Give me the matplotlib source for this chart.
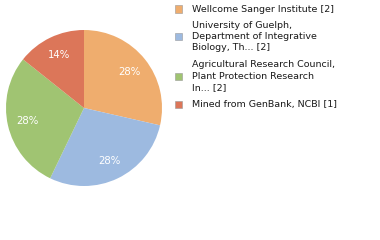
import matplotlib.pyplot as plt
from matplotlib.patches import Rectangle
import numpy as np

labels = ["Wellcome Sanger Institute [2]",
          "University of Guelph,\nDepartment of Integrative\nBiology, Th... [2]",
          "Agricultural Research Council,\nPlant Protection Research\nIn... [2]",
          "Mined from GenBank, NCBI [1]"]
counts = [2, 2, 2, 1]
pct_text = ["28%", "28%", "28%", "14%"]
colors = ["#EFAD6E", "#9DBAE0", "#A0C472", "#DC7659"]

W, H = 380, 240
fig = plt.figure(figsize=(3.8, 2.4), dpi=100)

# pie: centre (84,108), radius 78 px
cx, cy, r = 84, 108, 78
ax = fig.add_axes([(cx - r) / W, 1 - (cy + r) / H, 2 * r / W, 2 * r / H])
wedges, _ = ax.pie(counts, colors=colors, startangle=90, counterclock=False,
                   radius=1.0, wedgeprops=dict(linewidth=0))
for w, t in zip(wedges, pct_text):
    ang = np.deg2rad((w.theta1 + w.theta2) / 2)
    ax.text(0.75 * np.cos(ang), 0.75 * np.sin(ang), t, color="white",
            ha="center", va="center", fontsize=7.3)
ax.set_xlim(-1, 1)
ax.set_ylim(-1, 1)
ax.set_aspect("equal")
ax.axis("off")

# legend drawn by hand
line_h = 11.5
ys = [9, 25, 65, 104]
for y0, lab, c in zip(ys, labels, colors):
    n = lab.count("\n") + 1
    mid = y0 + (n - 1) * line_h / 2
    fig.patches.append(Rectangle((175 / W, 1 - (mid + 3.5) / H), 7 / W, 7 / H,
                                 transform=fig.transFigure, facecolor=c,
                                 edgecolor="#999999", linewidth=0.4))
    for k, line in enumerate(lab.split("\n")):
        fig.text(192 / W, 1 - (y0 + k * line_h) / H, line, fontsize=6.8,
                 color="#1a1a1a", va="center", ha="left")

fig.savefig("out.png", dpi=100)
